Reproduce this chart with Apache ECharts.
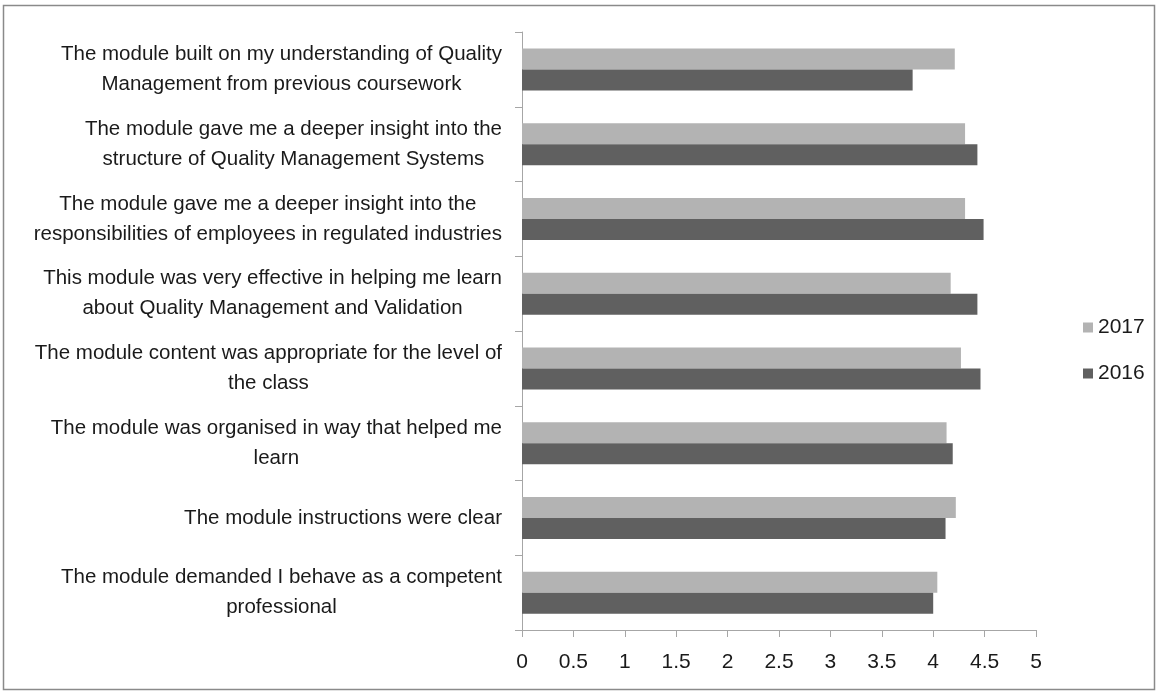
<!DOCTYPE html>
<html>
<head>
<meta charset="utf-8">
<script src="https://cdn.jsdelivr.net/npm/echarts@6/dist/echarts.min.js"></script>
<style>
html,body{margin:0;padding:0;background:#fff;}
#chart{width:1158px;height:693px;}
</style>
</head>
<body>
<div id="chart"></div>
<script>
var categories = [
  "The module built on my understanding of Quality\nManagement from previous coursework",
  "The module gave me a deeper insight into the\nstructure of Quality Management Systems",
  "The module gave me a deeper insight into the\nresponsibilities of employees in regulated industries",
  "This module was very effective in helping me learn\nabout Quality Management and Validation",
  "The module content was appropriate for the level of\nthe class",
  "The module was organised in way that helped me\nlearn",
  "The module instructions were clear",
  "The module demanded I behave as a competent\nprofessional"
];
var values2017 = [4.21, 4.31, 4.31, 4.17, 4.27, 4.13, 4.22, 4.04];
var values2016 = [3.80, 4.43, 4.49, 4.43, 4.46, 4.19, 4.12, 4.00];
var xTicks = [0, 0.5, 1, 1.5, 2, 2.5, 3, 3.5, 4, 4.5, 5];

var FONT = '"Liberation Sans", sans-serif';
var chart = echarts.init(document.getElementById('chart'));
chart.setOption({
  animation: false,
  backgroundColor: '#ffffff',
  textStyle: { fontFamily: FONT },
  graphic: [{
    type: 'rect',
    shape: { x: 3.5, y: 5.5, width: 1151, height: 684 },
    style: { fill: 'none', stroke: '#8a8a8a', lineWidth: 1.5 }
  }],
  legend: {
    orient: 'vertical',
    left: 1078,
    top: 312,
    itemWidth: 10,
    itemHeight: 10,
    itemGap: 25,
    icon: 'rect',
    data: ['2017', '2016'],
    textStyle: { fontFamily: FONT, fontSize: 21, color: '#1a1a1a' }
  },
  grid: { left: 522, right: 122, top: 32, bottom: 63, containLabel: false },
  xAxis: {
    type: 'value',
    min: xTicks[0],
    max: xTicks[xTicks.length - 1],
    interval: 0.5,
    splitLine: { show: false },
    axisLine: { show: true, lineStyle: { color: '#a6a6a6', width: 1 } },
    axisTick: { show: true, length: 7, lineStyle: { color: '#a6a6a6' } },
    axisLabel: { fontFamily: FONT, fontSize: 21, color: '#1a1a1a', margin: 22 }
  },
  yAxis: {
    type: 'category',
    inverse: true,
    data: categories,
    axisLine: { show: true, lineStyle: { color: '#a6a6a6', width: 1 } },
    axisTick: { show: true, length: 7, lineStyle: { color: '#a6a6a6' } },
    axisLabel: {
      margin: 20,
      align: 'right',
      fontFamily: FONT,
      fontSize: 20.5,
      color: '#1a1a1a',
      lineHeight: 30,
      formatter: function (v) {
        return v.split('\n').map(function (s) { return '{c|' + s + '}'; }).join('\n');
      },
      rich: { c: { align: 'center', fontFamily: FONT, fontSize: 20.5, lineHeight: 30, color: '#1a1a1a' } }
    }
  },
  series: [
    {
      name: '2017', type: 'bar', data: values2017,
      itemStyle: { color: '#b3b3b3' },
      barWidth: 21, barGap: '0%', barCategoryGap: '42%'
    },
    {
      name: '2016', type: 'bar', data: values2016,
      itemStyle: { color: '#606060' },
      barWidth: 21, barGap: '0%', barCategoryGap: '42%'
    }
  ]
});
</script>
</body>
</html>
